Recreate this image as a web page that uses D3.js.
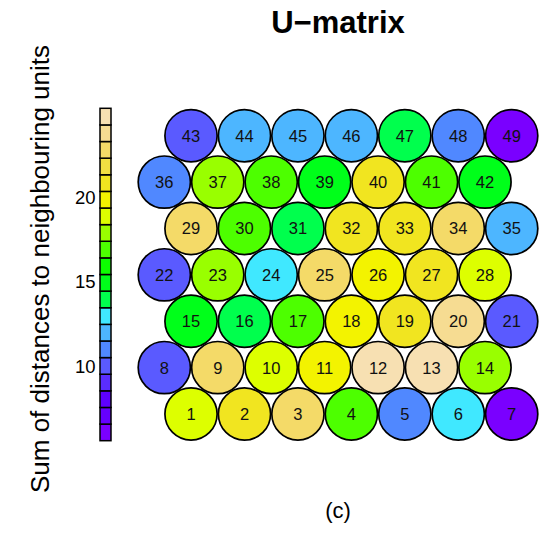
<!DOCTYPE html>
<html>
<head>
<meta charset="utf-8">
<script src="https://cdn.jsdelivr.net/npm/d3@7"></script>
<style>
  html, body { margin: 0; padding: 0; background: #fff; }
  svg { display: block; font-family: "Liberation Sans", Arial, sans-serif; }
</style>
</head>
<body>
<svg id="chart" width="552" height="533"></svg>
<script>
// SOM grid dimensions (7 x 7 hexagonal)
const xdim = 7;
const ydim = 7;

// Unit numbers 1..49 and their U-matrix value (sum of distances to neighbouring units)
const units = d3.range(1, 50);
const distances = [
  18.7, 20.9, 22.6, 16.8, 11.1, 13.0, 5.61,
  10.1, 22.9, 18.9, 19.9, 25.0, 25.24, 17.9,
  14.8, 14.1, 16.7, 19.7, 20.6, 23.9, 9.9,
  10.2, 18.0, 12.9, 22.4, 19.8, 20.7, 18.6,
  22.8, 16.9, 13.9, 20.5, 21.0, 23.0, 12.1,
  11.2, 17.8, 16.6, 15.0, 20.8, 17.0, 14.9,
  10.0, 12.0, 11.9, 12.2, 14.0, 10.9, 6.0
];

// 20-step palette, low to high
const palette = [
  "#7a00ff", "#6600ff", "#5e00ff", "#5a2dff", "#5a5aff",
  "#5088ff", "#4db6ff", "#40e8ff", "#00ff4d", "#00ff1a",
  "#0dff00", "#4dff00", "#99ff00", "#ddff00", "#f3f300",
  "#f1e520", "#f2df42", "#f4da68", "#f6dc92", "#f7e0b2"
];

const colorbarTicks = [10, 15, 20];

const svg = d3.select("#chart");

// Unit coordinates as in a hexagonal somgrid: odd rows shifted by half a unit
const pts = units.map((u, i) => {
  const col = i % xdim + 1;
  const row = Math.floor(i / xdim) + 1;
  return {
    unit: u,
    value: distances[i],
    gx: col + 0.5 * (row % 2),
    gy: Math.sqrt(3) / 2 * row
  };
});

const x = d3.scaleLinear().domain([1, 7.5]).range([164.3, 511.7]);
const y = d3.scaleLinear().domain([Math.sqrt(3) / 2, Math.sqrt(3) / 2 * ydim]).range([414, 135.7]);

const vmin = d3.min(distances), vmax = d3.max(distances);
const color = d3.scaleQuantize().domain([vmin, vmax]).range(palette);

// Units
const g = svg.append("g");
g.selectAll("circle")
  .data(pts)
  .join("circle")
  .attr("cx", d => x(d.gx))
  .attr("cy", d => y(d.gy))
  .attr("r", 26.1)
  .attr("fill", d => color(d.value))
  .attr("stroke", "#000")
  .attr("stroke-width", 1.7);

g.selectAll("text")
  .data(pts)
  .join("text")
  .attr("x", d => x(d.gx))
  .attr("y", d => y(d.gy))
  .attr("dy", "0.36em")
  .attr("text-anchor", "middle")
  .attr("font-size", 16.5)
  .attr("fill", "#111")
  .text(d => d.unit);

// Colour bar
const cb = d3.scaleLinear().domain([vmin, vmax]).range([440.7, 108.3]);
const step = (vmax - vmin) / palette.length;
svg.append("g").selectAll("rect")
  .data(palette)
  .join("rect")
  .attr("x", 100)
  .attr("width", 11)
  .attr("y", (c, i) => cb(vmin + (i + 1) * step))
  .attr("height", (c, i) => cb(vmin + i * step) - cb(vmin + (i + 1) * step))
  .attr("fill", c => c)
  .attr("stroke", "#000")
  .attr("stroke-width", 1.5);

svg.append("g").selectAll("text")
  .data(colorbarTicks)
  .join("text")
  .attr("x", 95.5)
  .attr("y", d => cb(d))
  .attr("dy", "0.36em")
  .attr("text-anchor", "end")
  .attr("font-size", 18.5)
  .attr("fill", "#000")
  .text(d => d);

// Axis title of the colour bar
svg.append("text")
  .attr("transform", "translate(49,269) rotate(-90)")
  .attr("text-anchor", "middle")
  .attr("font-size", 26)
  .attr("fill", "#000")
  .text("Sum of distances to neighbouring units");

// Main title
svg.append("text")
  .attr("x", 338)
  .attr("y", 33)
  .attr("text-anchor", "middle")
  .attr("font-size", 31)
  .attr("font-weight", "bold")
  .attr("fill", "#000")
  .text("U\u2212matrix");

// Panel label
svg.append("text")
  .attr("x", 338)
  .attr("y", 518)
  .attr("text-anchor", "middle")
  .attr("font-size", 22)
  .attr("fill", "#000")
  .text("(c)");
</script>
</body>
</html>
